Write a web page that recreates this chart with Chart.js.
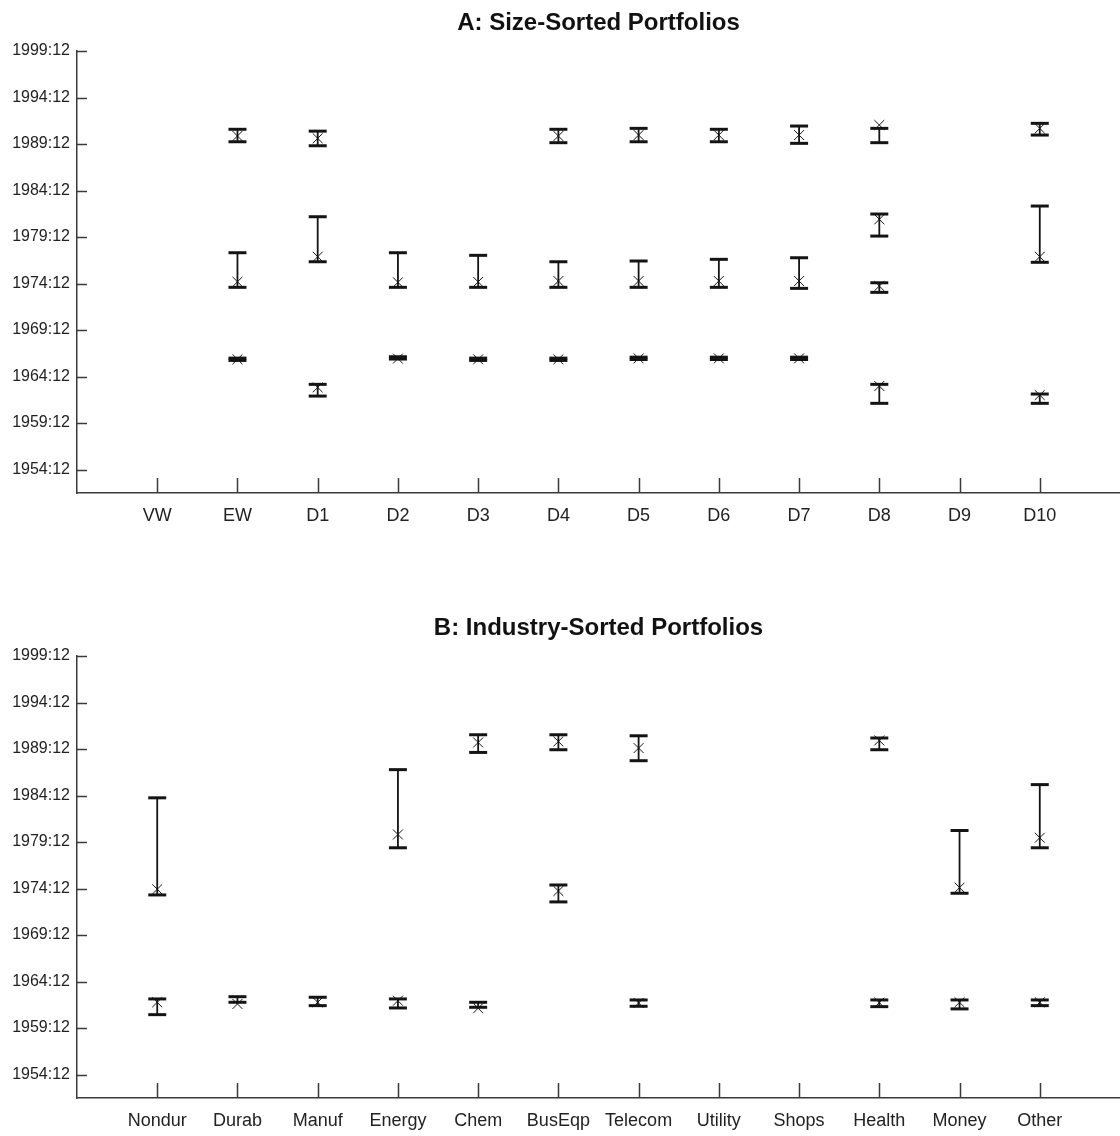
<!DOCTYPE html>
<html>
<head>
<meta charset="utf-8">
<script src="https://cdn.jsdelivr.net/npm/chart.js@4.4.1/dist/chart.umd.min.js"></script>
<style>
  html,body{margin:0;padding:0;background:#fff;overflow:hidden;}
  .panel{position:absolute;left:0;width:1120px;height:531px;}
  #wrapA{top:0;}
  #wrapB{top:605px;}
</style>
</head>
<body>
<div class="panel" id="wrapA"><canvas id="chartA"></canvas></div>
<div class="panel" id="wrapB"><canvas id="chartB"></canvas></div>
<script>
// ---------- Axis labels
const yTickLabels = ['1954:12','1959:12','1964:12','1969:12','1974:12','1979:12','1984:12','1989:12','1994:12','1999:12'];
const yMin = 1952.4;
const sizeCategories = ['VW','EW','D1','D2','D3','D4','D5','D6','D7','D8','D9','D10'];
const industryCategories = ['Nondur','Durab','Manuf','Energy','Chem','BusEqp','Telecom','Utility','Shops','Health','Money','Other'];

// ---------- Panel A: break dates (decimal years), interval low / high and point estimate
//                    VW    EW       D1       D2       D3       D4       D5       D6       D7       D8       D9    D10
const sizeLo1  = [null, 1990.16, 1989.73, null,    null,    1990.06, 1990.16, 1990.16, 1989.99, 1990.06, null, 1990.88];
const sizeHi1  = [null, 1991.50, 1991.30, null,    null,    1991.50, 1991.60, 1991.50, 1991.85, 1991.60, null, 1992.14];
const sizeEst1 = [null, 1990.78, 1990.53, null,    null,    1990.78, 1990.88, 1990.88, 1990.88, 1991.96, null, 1991.60];
const sizeLo2  = [null, 1974.51, 1977.26, 1974.51, 1974.51, 1974.51, 1974.51, 1974.51, 1974.40, 1980.02, null, 1977.20];
const sizeHi2  = [null, 1978.23, 1982.10, 1978.23, 1977.95, 1977.26, 1977.34, 1977.52, 1977.69, 1982.39, null, 1983.25];
const sizeEst2 = [null, 1975.11, 1977.80, 1975.05, 1975.10, 1975.19, 1975.19, 1975.19, 1975.19, 1981.82, null, 1977.80];
const sizeLo3  = [null, 1966.65, 1962.82, 1966.80, 1966.65, 1966.65, 1966.75, 1966.75, 1966.75, 1973.97, null, 1962.04];
const sizeHi3  = [null, 1966.90, 1964.08, 1967.05, 1966.90, 1966.90, 1967.00, 1967.00, 1967.00, 1975.00, null, 1963.04];
const sizeEst3 = [null, 1966.77, 1963.75, 1966.85, 1966.77, 1966.77, 1966.87, 1966.87, 1966.87, 1974.65, null, 1962.93];
const sizeLo4  = [null, null,    null,    null,    null,    null,    null,    null,    null,    1962.04, null, null];
const sizeHi4  = [null, null,    null,    null,    null,    null,    null,    null,    null,    1964.08, null, null];
const sizeEst4 = [null, null,    null,    null,    null,    null,    null,    null,    null,    1963.90, null, null];

// ---------- Panel B
//                    Nondur   Durab    Manuf    Energy   Chem     BusEqp   Telecom  Utility Shops Health   Money    Other
const indLo1  = [null,    null,    null,    null,    1989.55, 1989.84, 1988.66, null, null, 1989.84, null,    null];
const indHi1  = [null,    null,    null,    null,    1991.45, 1991.45, 1991.34, null, null, 1991.10, null,    null];
const indEst1 = [null,    null,    null,    null,    1990.62, 1990.73, 1990.02, null, null, 1990.84, null,    null];
const indLo2  = [1974.23, null,    null,    1979.30, null,    1973.48, null,    null, null, null,    1974.41, 1979.30];
const indHi2  = [1984.67, null,    null,    1987.70, null,    1975.30, null,    null, null, null,    1981.16, 1986.09];
const indEst2 = [1974.84, null,    null,    1980.73, null,    1974.65, null,    null, null, null,    1975.02, 1980.38];
const indLo3  = [1961.36, 1962.69, 1962.33, 1962.08, 1962.15, null,    1962.26, null, null, 1962.22, 1961.98, 1962.33];
const indHi3  = [1963.05, 1963.29, 1963.23, 1963.05, 1962.69, null,    1962.94, null, null, 1962.94, 1962.94, 1962.94];
const indEst3 = [1962.69, 1962.51, 1962.69, 1962.86, 1962.05, null,    1962.62, null, null, 1962.65, 1962.69, 1962.69];

const ink = '#141414';
const axisColor = '#3a3a3a';
const fontFamily = '"Liberation Sans", Arial, sans-serif';

// ---------- Helpers
function dateValue(lbl){ const p = lbl.split(':').map(Number); return p[0] + (p[1]-1)/12; }
const yTickValues = yTickLabels.map(dateValue);

function makeDatasets(levels){
  const stems=[], caps=[], ests=[];
  levels.forEach(([lo,hi,est]) => {
    lo.forEach((v,i) => {
      if(v==null) return;
      const x = i+1;
      stems.push({x, y:v}, {x, y:hi[i]}, {x, y:null});
      caps.push({x, y:v}, {x, y:hi[i]});
      ests.push({x, y:est[i]});
    });
  });
  return [
    {type:'line', data:stems, showLine:true, spanGaps:false, borderColor:ink, borderWidth:1.8, pointRadius:0, clip:false},
    {type:'scatter', data:caps, pointStyle:'line', pointRadius:9, pointBorderWidth:3, borderColor:ink, backgroundColor:ink, clip:false},
    {type:'scatter', data:ests, pointStyle:'crossRot', pointRadius:7, pointBorderWidth:1, borderColor:ink, backgroundColor:ink, clip:false}
  ];
}

// inward tick marks, matlab style
const innerTicks = {
  id:'innerTicks',
  afterDraw(chart){
    const {ctx, chartArea, scales:{x, y}} = chart;
    ctx.save();
    ctx.strokeStyle = axisColor;
    ctx.lineWidth = 1.5;
    ctx.beginPath();
    yTickValues.forEach(v => {
      const py = Math.round(y.getPixelForValue(v)) + 0.5;
      ctx.moveTo(chartArea.left, py); ctx.lineTo(chartArea.left + 10, py);
    });
    for(let i=1;i<=12;i++){
      const px = Math.round(x.getPixelForValue(i)) + 0.5;
      ctx.moveTo(px, chartArea.bottom); ctx.lineTo(px, chartArea.bottom - 15);
    }
    ctx.stroke();
    ctx.restore();
  }
};

function createPanel(id, title, categories, levels){
  const ctx = document.getElementById(id).getContext('2d');
  return new Chart(ctx, {
    type:'scatter',
    data:{datasets:makeDatasets(levels)},
    options:{
      animation:false, responsive:true, maintainAspectRatio:false, events:[],
      layout:{padding:0, autoPadding:false},
      plugins:{
        legend:{display:false}, tooltip:{enabled:false},
        title:{display:true, text:title, fullSize:false, color:'#111',
          font:{family:fontFamily, size:24, weight:'bold'}, padding:{top:8.6, bottom:13.6}}
      },
      scales:{
        x:{type:'linear', min:0, max:13,
          grid:{display:false, drawTicks:false}, border:{display:true, color:axisColor, width:1.5},
          afterBuildTicks:s => { s.ticks = categories.map((c,i)=>({value:i+1})); },
          afterFit:s => { s.height = 38; s.paddingLeft = 0; s.paddingRight = 0; },
          ticks:{autoSkip:false, maxRotation:0, padding:12, color:'#222',
            font:{family:fontFamily, size:18},
            callback:v => categories[v-1]}
        },
        y:{type:'linear', min:yMin, max:yTickValues[yTickValues.length-1],
          grid:{display:false, drawTicks:false}, border:{display:true, color:axisColor, width:1.5},
          afterBuildTicks:s => { s.ticks = yTickValues.map(v=>({value:v})); },
          afterFit:s => { s.width = 77; },
          ticks:{padding:7, color:'#222', font:{family:fontFamily, size:16},
            callback:v => { const i = yTickValues.findIndex(t=>Math.abs(t-v)<1e-6); return i>=0 ? yTickLabels[i] : ''; }}
        }
      }
    },
    plugins:[innerTicks]
  });
}

createPanel('chartA', 'A: Size-Sorted Portfolios', sizeCategories, [
  [sizeLo1,sizeHi1,sizeEst1],[sizeLo2,sizeHi2,sizeEst2],[sizeLo3,sizeHi3,sizeEst3],[sizeLo4,sizeHi4,sizeEst4]
]);
createPanel('chartB', 'B: Industry-Sorted Portfolios', industryCategories, [
  [indLo1,indHi1,indEst1],[indLo2,indHi2,indEst2],[indLo3,indHi3,indEst3]
]);
</script>
</body>
</html>
